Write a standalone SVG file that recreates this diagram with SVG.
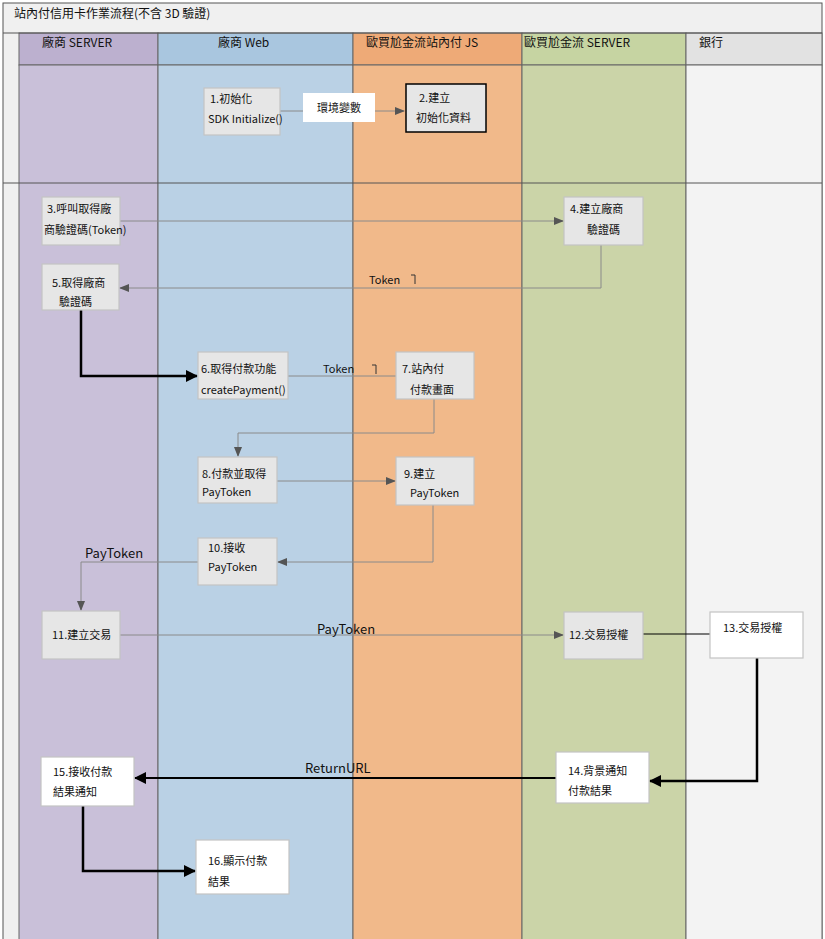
<svg xmlns="http://www.w3.org/2000/svg" width="825" height="939" viewBox="0 0 825 939">
<defs>
<style>
text{font-family:"Noto Sans CJK TC","Liberation Sans",sans-serif;fill:#111}
.t{font-size:11px}
.h{font-size:12px}
.n{fill:#e6e6e6;stroke:#c4c4c4;stroke-width:1.2}
.w{fill:#fff;stroke:#c4c4c4;stroke-width:1.2}
.g{fill:none;stroke:#8a8a8a;stroke-width:1}
.k{fill:none;stroke:#000;stroke-width:2.5}
.lane{stroke:#666;stroke-width:1}
</style>
<marker id="ag" markerWidth="10" markerHeight="8" refX="9" refY="4" orient="auto" markerUnits="userSpaceOnUse"><path d="M0,0L10,4L0,8z" fill="#555"/></marker>
<marker id="ak" markerWidth="12" markerHeight="12" refX="11" refY="6" orient="auto" markerUnits="userSpaceOnUse"><path d="M0,0L12,6L0,12z" fill="#000"/></marker>
</defs>
<rect x="0" y="0" width="825" height="939" fill="#fff"/>
<rect x="3" y="3" width="819" height="940" fill="#f0f0f0" stroke="#555"/>
<text x="14" y="18" style="font-size:12px">站內付信用卡作業流程(不含 3D 驗證)</text>
<g id="lanes">
<rect x="19" y="33" width="139" height="32" fill="#bcb0cf" class="lane"/>
<rect x="19" y="65" width="139" height="880" fill="#c9c0d9" class="lane"/>
<rect x="158" y="33" width="195" height="32" fill="#a9c6df" class="lane"/>
<rect x="158" y="65" width="195" height="880" fill="#bad1e5" class="lane"/>
<rect x="353" y="33" width="169" height="32" fill="#eeaa77" class="lane"/>
<rect x="353" y="65" width="169" height="880" fill="#f1b98a" class="lane"/>
<rect x="522" y="33" width="164" height="32" fill="#c6d4a2" class="lane"/>
<rect x="522" y="65" width="164" height="880" fill="#cbd4a8" class="lane"/>
<rect x="686" y="33" width="136" height="32" fill="#e2e2e2" class="lane"/>
<rect x="686" y="65" width="136" height="880" fill="#f3f3f3" class="lane"/>
<line x1="3" y1="33" x2="822" y2="33" stroke="#555"/>
<line x1="3" y1="183" x2="822" y2="183" stroke="#555"/>
<text x="42" y="47" class="h">廠商  SERVER</text>
<text x="218" y="47" class="h">廠商   Web</text>
<text x="366" y="47" class="h">歐買尬金流站內付  JS</text>
<text x="524" y="47" class="h">歐買尬金流 SERVER</text>
<text x="699" y="47" class="h">銀行</text>
</g>
<g id="connectors">
<line x1="280" y1="111" x2="404" y2="111" class="g" marker-end="url(#ag)"/>
<rect x="303" y="93" width="72" height="29" fill="#fff"/>
<text x="339" y="112" class="t" text-anchor="middle">環境變數</text>
<line x1="120" y1="221" x2="563" y2="221" class="g" marker-end="url(#ag)"/>
<path d="M601,245V288H120" class="g" marker-end="url(#ag)"/>
<text x="369" y="284" class="t">Token</text><path d="M411,275h4v9" fill="none" stroke="#333"/>
<path d="M81,310V376H197" class="k" marker-end="url(#ak)"/>
<line x1="288" y1="376" x2="396" y2="376" class="g"/>
<text x="323" y="373" class="t">Token</text><path d="M372,365h4v9" fill="none" stroke="#333"/>
<path d="M434,399V433H238V456" class="g" marker-end="url(#ag)"/>
<line x1="277" y1="481" x2="395" y2="481" class="g" marker-end="url(#ag)"/>
<path d="M433,505V562H278" class="g" marker-end="url(#ag)"/>
<path d="M198,562H81V610" class="g" marker-end="url(#ag)"/>
<text x="85" y="558" style="font-size:13px">PayToken</text>
<line x1="120" y1="635" x2="563" y2="635" class="g" marker-end="url(#ag)"/>
<text x="317" y="634" style="font-size:13px">PayToken</text>
<line x1="643" y1="634" x2="710" y2="634" stroke="#000" stroke-width="1.2"/>
<path d="M757,658V781H650" class="k" marker-end="url(#ak)"/>
<line x1="556" y1="778" x2="135" y2="778" stroke="#000" stroke-width="2" marker-end="url(#ak)"/>
<text x="305" y="773" style="font-size:13px">ReturnURL</text>
<path d="M83,806V871H195" class="k" marker-end="url(#ak)"/>
</g>
<g id="n1"><rect x="204" y="88" width="76" height="47" class="n"/><text x="210" y="103" class="t">1.初始化</text><text x="208" y="123" class="t">SDK Initialize()</text></g>
<g id="n2"><rect x="406" y="84" width="80" height="48" class="n" style="stroke:#000;stroke-width:1.5"/><text x="419" y="102" class="t">2.建立</text><text x="416" y="122" class="t">初始化資料</text></g>
<g id="n3"><rect x="42" y="197" width="78" height="48" class="n"/><text x="47" y="213" class="t">3.呼叫取得廠</text><text x="44" y="234" class="t">商驗證碼(Token)</text></g>
<g id="n4"><rect x="564" y="197" width="79" height="48" class="n"/><text x="570" y="213" class="t">4.建立廠商</text><text x="587" y="234" class="t">驗證碼</text></g>
<g id="n5"><rect x="42" y="264" width="77" height="46" class="n"/><text x="52" y="287" class="t">5.取得廠商</text><text x="59" y="306" class="t">驗證碼</text></g>
<g id="n6"><rect x="198" y="352" width="90" height="47" class="n"/><text x="201" y="373" class="t">6.取得付款功能</text><text x="201" y="394" class="t">createPayment()</text></g>
<g id="n7"><rect x="396" y="352" width="78" height="47" class="n"/><text x="402" y="373" class="t">7.站內付</text><text x="410" y="394" class="t">付款畫面</text></g>
<g id="n8"><rect x="198" y="457" width="79" height="46" class="n"/><text x="202" y="478" class="t">8.付款並取得</text><text x="202" y="496" class="t">PayToken</text></g>
<g id="n9"><rect x="396" y="457" width="78" height="48" class="n"/><text x="404" y="478" class="t">9.建立</text><text x="410" y="497" class="t">PayToken</text></g>
<g id="n10"><rect x="198" y="538" width="79" height="47" class="n"/><text x="208" y="552" class="t">10.接收</text><text x="208" y="571" class="t">PayToken</text></g>
<g id="n11"><rect x="42" y="611" width="78" height="48" class="n"/><text x="52" y="639" class="t">11.建立交易</text></g>
<g id="n12"><rect x="564" y="612" width="79" height="47" class="n"/><text x="569" y="639" class="t">12.交易授權</text></g>
<g id="n13"><rect x="710" y="612" width="93" height="46" class="w"/><text x="723" y="632" class="t">13.交易授權</text></g>
<g id="n14"><rect x="556" y="752" width="93" height="51" class="w"/><text x="568" y="775" class="t">14.背景通知</text><text x="568" y="795" class="t">付款結果</text></g>
<g id="n15"><rect x="41" y="757" width="93" height="49" class="w"/><text x="53" y="776" class="t">15.接收付款</text><text x="53" y="796" class="t">結果通知</text></g>
<g id="n16"><rect x="196" y="840" width="93" height="54" class="w"/><text x="208" y="865" class="t">16.顯示付款</text><text x="208" y="886" class="t">結果</text></g>
</svg>
